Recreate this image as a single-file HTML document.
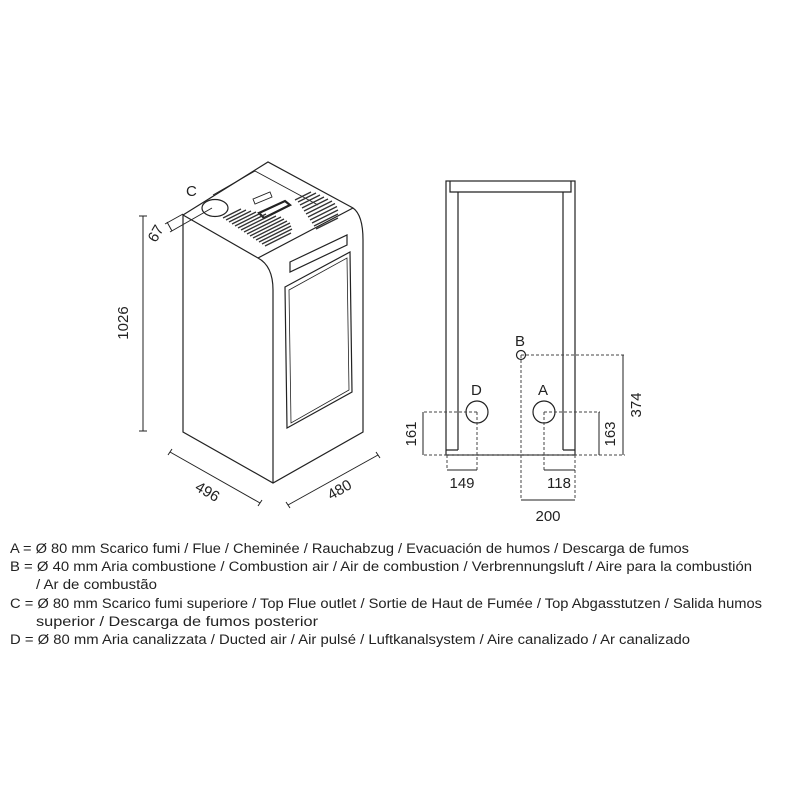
<!DOCTYPE html>
<html><head><meta charset="utf-8"><style>html,body{margin:0;padding:0;background:#fff}svg{display:block}</style></head>
<body>
<svg width="800" height="800" viewBox="0 0 800 800" xmlns="http://www.w3.org/2000/svg" font-family="Liberation Sans, sans-serif">
<rect width="800" height="800" fill="#fff"/>
<g fill="none" stroke="#222" stroke-width="1.2">
<path d="M183,215 L268,162 L353,208 Q363,215 363,240 L363,432 L273,483 L183,432 Z"/>
<path d="M183,215 L258,258 Q273,266 273,290 L273,483"/>
<path d="M258,258 L353,208"/>
<path d="M213,195 L255,171 L318,205" stroke-width="0.9"/>
<ellipse cx="215" cy="208" rx="13" ry="8.5"/>
<path d="M253,199 L270,192 L272,197 L255,204 Z" stroke-width="0.9"/>
<path d="M259,213 L285,201 L290,205 L264,218 Z" stroke-width="2.2" fill="#fff"/>
<path d="M285,287 L350,252 L352,392 L287,428 Z"/>
<path d="M289,290 L347,258 L349,390 L291,423 Z" stroke-width="0.8"/>
<path d="M290,262 L347,235 L347,245 L290,272 Z"/>
</g>
<g stroke="#333" stroke-width="1.3">
<path d="M223,218 l18,-9 M226,220 l20,-10 M229,222 l22,-11 M232,224 l24,-12 M235,226 l26,-13 M238,228 l28,-14 M241,230 l30,-15 M244,232 l32,-16 M247,234 l34,-17 M250,236 l34,-17 M253,238 l34,-17 M256,240 l34,-17 M259,242 l32,-16 M262,244 l30,-15 M265,246 l26,-13"/>
<path d="M295,200 l16,-8 M298,202 l18,-9 M300,205 l20,-10 M302,208 l22,-11 M304,211 l24,-12 M306,214 l26,-13 M308,217 l27,-13.5 M310,220 l27,-13.5 M312,223 l26,-13 M314,226 l24,-12 M316,229 l22,-11"/>
</g>
<g stroke="#222" stroke-width="1" fill="none">
<path d="M143,216 V431 M139,216 H147 M139,431 H147"/>
<path d="M170,452 L260,503 M168,455 L172,449 M258,506 L262,500"/>
<path d="M288,505 L378,455 M286,502 L290,508 M376,452 L380,458"/>
<path d="M212,208 L170,232 M183,214 L165,224 M167,222 L172,231"/>
</g>
<g font-size="15" fill="#222">
<text x="186" y="196">C</text>
<text transform="translate(128,323) rotate(-90)" text-anchor="middle">1026</text>
<text transform="translate(205,496) rotate(30)" text-anchor="middle">496</text>
<text transform="translate(342,494) rotate(-30)" text-anchor="middle">480</text>
<text transform="translate(160,236) rotate(-60)" text-anchor="middle">67</text>
</g>
<g fill="none" stroke="#222" stroke-width="1.2">
<rect x="446" y="181" width="129" height="274"/>
<path d="M450,181 V192 H571 V181"/>
<path d="M458,192 V450 M563,192 V450 M446,450 H458 M563,450 H575"/>
<circle cx="521" cy="355" r="4.5"/>
<circle cx="477" cy="412" r="11"/>
<circle cx="544" cy="412" r="11"/>
</g>
<g fill="none" stroke="#444" stroke-width="1" stroke-dasharray="3,2">
<path d="M424,412 H477 M544,412 H600 M424,455 H625 M521,355 H625"/>
<path d="M447,455 V470 M477,412 V470 M544,412 V470 M575,455 V500 M521,355 V500"/>
</g>
<g stroke="#222" stroke-width="1">
<path d="M423,412 V455 M599,412 V455 M623,355 V455 M447,470 H477 M544,470 H575 M521,500 H575"/>
</g>
<g font-size="15" fill="#222">
<text x="471" y="395">D</text><text x="538" y="395">A</text><text x="515" y="346">B</text>
<text x="462" y="488" text-anchor="middle">149</text>
<text x="559" y="488" text-anchor="middle">118</text>
<text x="548" y="521" text-anchor="middle">200</text>
<text transform="translate(416,434) rotate(-90)" text-anchor="middle">161</text>
<text transform="translate(615,434) rotate(-90)" text-anchor="middle">163</text>
<text transform="translate(641,405) rotate(-90)" text-anchor="middle">374</text>
</g>
<g font-size="13.5" fill="#222">
<text x="10" y="553" textLength="679" lengthAdjust="spacingAndGlyphs">A = Ø 80 mm  Scarico fumi / Flue / Cheminée / Rauchabzug / Evacuación de humos / Descarga de fumos</text>
<text x="10" y="571" textLength="742" lengthAdjust="spacingAndGlyphs">B = Ø 40 mm  Aria combustione / Combustion air / Air de combustion / Verbrennungsluft / Aire para la combustión</text>
<text x="36" y="589" textLength="121" lengthAdjust="spacingAndGlyphs">/ Ar de combustão</text>
<text x="10" y="608" textLength="752" lengthAdjust="spacingAndGlyphs">C = Ø 80 mm  Scarico fumi superiore / Top Flue outlet / Sortie de Haut de Fumée / Top Abgasstutzen / Salida humos</text>
<text x="36" y="626" textLength="282" lengthAdjust="spacingAndGlyphs">superior / Descarga de fumos posterior</text>
<text x="10" y="644" textLength="680" lengthAdjust="spacingAndGlyphs">D = Ø 80 mm  Aria canalizzata / Ducted air / Air pulsé / Luftkanalsystem / Aire canalizado / Ar canalizado</text>
</g>
</svg>
</body></html>
